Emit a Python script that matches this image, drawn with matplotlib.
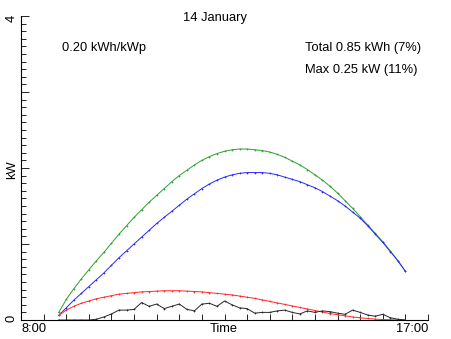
import numpy as np
import pandas as pd
import matplotlib
matplotlib.use('Agg')
import matplotlib.pyplot as plt
from matplotlib.ticker import MultipleLocator

plt.rcParams['font.family'] = ['Liberation Sans', 'DejaVu Sans']

# 10-minute samples, 8:50 - 16:30
times = pd.date_range('2000-01-14 08:50', '2000-01-14 16:30', freq='10min')
hours = times.hour + times.minute / 60.0

# clear sky (green)
clear_sky = [0.10, 0.27, 0.41, 0.54, 0.66, 0.78, 0.89, 1.01, 1.13, 1.24,
             1.35, 1.45, 1.55, 1.64, 1.73, 1.82, 1.90, 1.97, 2.04, 2.10,
             2.15, 2.19, 2.22, 2.24, 2.25, 2.25, 2.24, 2.23, 2.21, 2.18,
             2.14, 2.09, 2.04, 1.98, 1.91, 1.84, 1.76, 1.67, 1.57, 1.47,
             1.36, 1.25, 1.14, 1.03, 0.91, 0.78, 0.64]
# expected (blue)
expected = [0.06, 0.16, 0.26, 0.35, 0.44, 0.53, 0.62, 0.72, 0.82, 0.91,
            1.00, 1.09, 1.18, 1.27, 1.35, 1.43, 1.51, 1.59, 1.66, 1.73,
            1.79, 1.84, 1.88, 1.91, 1.93, 1.94, 1.94, 1.94, 1.93, 1.91,
            1.88, 1.85, 1.82, 1.78, 1.74, 1.69, 1.63, 1.57, 1.50, 1.42,
            1.34, 1.24, 1.13, 1.02, 0.90, 0.78, 0.64]
# diffuse (red)
diffuse = [0.06, 0.13, 0.18, 0.22, 0.25, 0.28, 0.30, 0.32, 0.34, 0.35,
           0.36, 0.37, 0.375, 0.38, 0.385, 0.385, 0.385, 0.38, 0.375, 0.37,
           0.36, 0.35, 0.34, 0.33, 0.315, 0.30, 0.285, 0.265, 0.245, 0.225,
           0.205, 0.185, 0.165, 0.145, 0.125, 0.105, 0.085, 0.07, 0.055, 0.04,
           0.03, 0.02, 0.012, 0.006, 0.003, 0.001, 0.0]
# measured (black)
measured = [0.0, 0.0, 0.0, 0.0, 0.0, 0.01, 0.04, 0.08, 0.13, 0.13,
            0.14, 0.23, 0.18, 0.21, 0.15, 0.18, 0.21, 0.14, 0.12, 0.21,
            0.22, 0.18, 0.25, 0.20, 0.16, 0.15, 0.09, 0.10, 0.10, 0.12,
            0.13, 0.10, 0.08, 0.12, 0.10, 0.12, 0.11, 0.09, 0.075, 0.13,
            0.10, 0.065, 0.05, 0.075, 0.03, 0.01, 0.0]

W, H = 452, 339
fig = plt.figure(figsize=(W / 100, H / 100), dpi=100)
ax = fig.add_axes([21 / W, 1 - 320 / H, (428 - 21) / W, (320 - 16) / H])

mk = dict(marker='+', ms=1.8, mew=0.5, lw=0.7)
ax.plot(hours, clear_sky, color='#2ca02c', **mk)
ax.plot(hours, expected, color='#2828ff', **mk)
ax.plot(hours, diffuse, color='#ff2828', **mk)
ax.plot(hours, measured, color='#282828', **mk)

ax.set_xlim(8, 17)
ax.set_ylim(0, 4)
for s in ['top', 'right']:
    ax.spines[s].set_visible(False)
ax.spines['left'].set_linewidth(0.8)
ax.spines['bottom'].set_linewidth(0.8)

ax.xaxis.set_major_locator(MultipleLocator(0.5))
ax.yaxis.set_major_locator(MultipleLocator(1))
ax.yaxis.set_minor_locator(MultipleLocator(0.1))
ax.tick_params(axis='x', direction='in', length=4.5, width=0.6, labelbottom=False)
ax.tick_params(axis='y', which='major', direction='in', length=6, width=0.6, labelleft=False)
ax.tick_params(axis='y', which='minor', direction='in', length=3.5, width=0.6)

def ftext(x, y, s, **kw):
    fig.text(x / W, 1 - y / H, s, fontsize=9.3, **kw)

ftext(215, 18, '14 January', ha='center', va='center')
ftext(62, 48, '0.20 kWh/kWp', ha='left', va='center')
ftext(305, 48, 'Total 0.85 kWh (7%)', ha='left', va='center')
ftext(305, 70, 'Max 0.25 kW (11%)', ha='left', va='center')
ftext(21, 329, '8:00', ha='left', va='center')
ftext(224, 329, 'Time', ha='center', va='center')
ftext(428, 329, '17:00', ha='right', va='center')
ftext(12, 170, 'kW', ha='center', va='center', rotation=90)
ftext(12, 18, '4', ha='center', va='center', rotation=90)
ftext(12, 318, '0', ha='center', va='center', rotation=90)

fig.savefig('out.png', dpi=100)
